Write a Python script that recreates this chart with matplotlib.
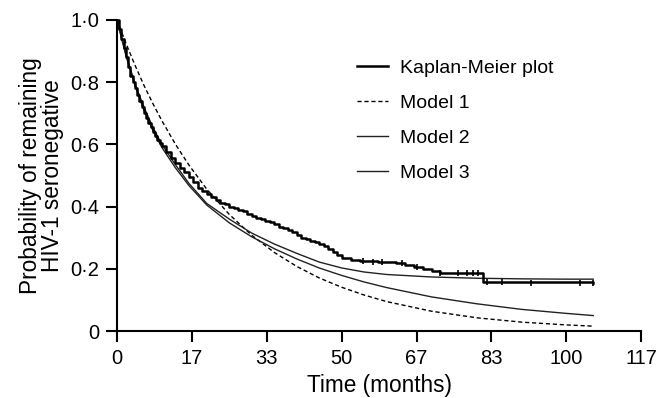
import matplotlib
matplotlib.use("Agg")
import matplotlib.pyplot as plt

plt.rcParams["font.family"] = ["Liberation Sans", "DejaVu Sans"]

# Kaplan-Meier estimate (step points)
km_t = [0, 0.5, 1, 1.5, 2, 2.5, 3, 3.5, 4, 4.5, 5, 5.5, 6, 6.5, 7, 7.5, 8, 8.5,
        9, 9.5, 10, 11, 12, 13, 14, 15, 16, 17, 18, 19,
        20, 21, 22, 23, 24, 25, 26, 27, 28, 29, 30, 31, 32, 33, 34, 35, 36, 37,
        38, 39, 40, 41, 42, 43, 44, 45, 46, 47, 48, 49, 50, 52, 54, 58, 62, 64,
        66, 68, 70, 72, 81.5, 106]
km_p = [1.0, 0.97, 0.94, 0.91, 0.88, 0.85, 0.82, 0.80, 0.78, 0.76, 0.74,
        0.72, 0.70, 0.685, 0.67, 0.655, 0.64, 0.628, 0.615, 0.605, 0.595,
        0.575, 0.555, 0.54, 0.525, 0.51, 0.495, 0.48, 0.46, 0.45, 0.44, 0.43,
        0.42, 0.413, 0.407, 0.40, 0.395, 0.39, 0.385, 0.375, 0.37, 0.365, 0.36,
        0.355, 0.35, 0.345, 0.335, 0.33, 0.325, 0.32, 0.31, 0.30, 0.295, 0.29,
        0.285, 0.28, 0.275, 0.265, 0.255, 0.245, 0.235, 0.23, 0.225, 0.222,
        0.218, 0.212, 0.207, 0.20, 0.193, 0.188, 0.158, 0.155]

# censored observations
cens_t = [54.8, 57, 59, 63.5, 66.8, 72, 76, 78, 79.3, 80.4, 82.4, 85.7, 92.2, 103, 106]
cens_p = [0.225, 0.222, 0.222, 0.218, 0.207, 0.188, 0.188, 0.188, 0.188, 0.188,
          0.158, 0.158, 0.155, 0.155, 0.155]

# fitted model curves
model_t = [0, 2, 4, 6, 8, 10, 13, 16, 20, 25, 30, 35, 40, 45, 50, 55, 60, 70,
           80, 90, 100, 106]
model1 = [1.0, 0.925, 0.855, 0.790, 0.731, 0.676, 0.601, 0.534, 0.456, 0.375,
          0.308, 0.253, 0.208, 0.171, 0.141, 0.116, 0.095, 0.064, 0.043, 0.029,
          0.020, 0.016]
model2 = [1.0, 0.89, 0.795, 0.72, 0.655, 0.60, 0.535, 0.475, 0.41, 0.36,
          0.315, 0.28, 0.25, 0.222, 0.203, 0.19, 0.182, 0.174, 0.17, 0.168,
          0.167, 0.167]
model3 = [1.0, 0.885, 0.79, 0.71, 0.645, 0.59, 0.525, 0.468, 0.405, 0.348,
          0.303, 0.265, 0.232, 0.203, 0.179, 0.158, 0.140, 0.110, 0.088, 0.070,
          0.057, 0.050]

x_ticks = [0, 116.67 / 7, 2 * 116.67 / 7, 3 * 116.67 / 7, 4 * 116.67 / 7,
           5 * 116.67 / 7, 6 * 116.67 / 7, 116.67]
x_labels = ["0", "17", "33", "50", "67", "83", "100", "117"]
y_ticks = [0, 0.2, 0.4, 0.6, 0.8, 1.0]
y_labels = ["0", "0·2", "0·4", "0·6", "0·8", "1·0"]

fig = plt.figure(figsize=(6.57, 3.98), dpi=100)
ax = fig.add_axes([0.178, 0.168, 0.798, 0.782])

ax.plot(km_t, km_p, color="black", lw=1.8, drawstyle="steps-post",
        label="Kaplan-Meier plot", clip_on=False, zorder=4)
ax.plot(cens_t, cens_p, ls="none", marker="|", ms=5, mew=1.2, color="black",
        clip_on=False, zorder=4)
ax.plot(model_t, model1, color="black", lw=1.0, ls=(0, (3, 2)),
        label="Model 1", clip_on=False)
ax.plot(model_t, model2, color="#222222", lw=1.0, label="Model 2", clip_on=False)
ax.plot(model_t, model3, color="#222222", lw=1.0, label="Model 3", clip_on=False)

ax.set_xlim(0, 116.67)
ax.set_ylim(0, 1.0)
ax.set_xticks(x_ticks)
ax.set_xticklabels(x_labels)
ax.set_yticks(y_ticks)
ax.set_yticklabels(y_labels)
ax.tick_params(direction="out", length=8, width=1.5, labelsize=14.5, pad=5)

for side in ["top", "right"]:
    ax.spines[side].set_visible(False)
for side in ["left", "bottom"]:
    ax.spines[side].set_linewidth(1.5)

ax.set_xlabel("Time (months)", fontsize=16.3, labelpad=4)
ax.set_ylabel("Probability of remaining\nHIV-1 seronegative", fontsize=16.3,
              linespacing=0.95, labelpad=4)

ax.legend(loc="upper left", bbox_to_anchor=(0.529, 0.876),
          bbox_transform=fig.transFigure, frameon=False, fontsize=14,
          handlelength=1.6, handletextpad=0.6, labelspacing=0.9, borderpad=0)

fig.savefig("out.png", dpi=100)
plt.close(fig)
